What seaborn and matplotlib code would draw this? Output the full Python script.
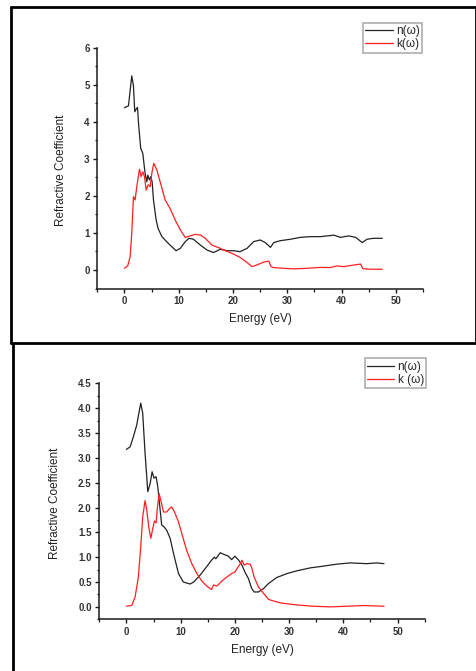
import numpy as np
import pandas as pd
import matplotlib
matplotlib.use('Agg')
import matplotlib.pyplot as plt
import seaborn as sns
from matplotlib.ticker import MultipleLocator, FormatStrFormatter
from matplotlib.lines import Line2D

# верхний график: n(w)
e_n_top = [0, 0.74, 1.35, 1.66, 1.9, 2.15, 2.4, 2.64, 3.0, 3.38, 3.8, 4.12, 4.3, 4.6, 4.86, 5.1,
           5.35, 5.84, 6.2, 6.9, 7.8, 8.7, 9.5, 10.3, 11.2, 11.9, 12.7, 13.96, 15.2, 16.4, 17.65,
           18.9, 20.1, 21.3, 22.6, 23.8, 25.0, 25.95, 26.9, 27.5, 28.7, 30.6, 32.4, 34.3, 36.1,
           38.6, 39.8, 41.3, 42.6, 43.8, 44.7, 45.9, 47.5]
n_top = [4.38, 4.43, 5.24, 4.97, 4.27, 4.34, 4.39, 3.87, 3.28, 3.15, 2.61, 2.38, 2.56, 2.43, 2.52, 2.38,
         1.89, 1.35, 1.12, 0.9, 0.76, 0.63, 0.52, 0.585, 0.765, 0.855, 0.83, 0.675, 0.54, 0.47, 0.56,
         0.52, 0.52, 0.495, 0.585, 0.765, 0.81, 0.74, 0.61, 0.74, 0.79, 0.83, 0.88, 0.9, 0.9,
         0.94, 0.88, 0.92, 0.88, 0.74, 0.83, 0.855, 0.855]

# верхний график: k(w)
e_k_top = [0, 0.6, 1.05, 1.35, 1.66, 1.97, 2.27, 2.77, 3.07, 3.38, 3.69, 4.0, 4.37, 4.74, 5.04, 5.4,
           5.97, 6.58, 7.5, 8.4, 9.35, 10.3, 11.2, 12.1, 13.0, 13.96, 14.9, 16.1, 17.4, 18.6, 20.1,
           21.3, 22.6, 23.5, 24.4, 25.6, 26.6, 27.0, 27.5, 29.3, 31.2, 33.6, 36.1, 37.9, 39.2,
           40.4, 42.3, 43.5, 43.9, 45.3, 47.5]
k_top = [0.045, 0.11, 0.36, 0.99, 1.98, 1.89, 2.25, 2.72, 2.52, 2.65, 2.52, 2.16, 2.3, 2.25, 2.61, 2.88,
         2.7, 2.38, 1.89, 1.66, 1.35, 1.08, 0.88, 0.92, 0.96, 0.945, 0.855, 0.675, 0.6, 0.52, 0.43,
         0.34, 0.2, 0.09, 0.135, 0.21, 0.24, 0.09, 0.065, 0.045, 0.03, 0.045, 0.07, 0.065, 0.11,
         0.09, 0.135, 0.16, 0.035, 0.02, 0.02]

# нижний график: n(w)
e_n_bot = [0, 0.68, 1.3, 1.9, 2.4, 2.64, 3.0, 3.44, 3.94, 4.37, 4.74, 5.1, 5.47, 5.78, 6.1, 6.5,
           6.95, 7.44, 8.06, 8.7, 9.6, 10.5, 11.75, 12.4, 13.6, 14.8, 15.7, 16.2, 16.5, 17.3, 17.9,
           18.8, 19.4, 20.0, 20.7, 21.3, 21.9, 22.5, 23.1, 23.55, 24.35, 25.3, 26.2, 27.7, 29.6,
           31.4, 33.9, 36.3, 38.8, 41.3, 44.3, 46.2, 47.5]
n_bot = [3.17, 3.22, 3.43, 3.66, 3.96, 4.1, 3.9, 3.09, 2.32, 2.48, 2.72, 2.59, 2.62, 2.42, 2.08, 1.65,
         1.61, 1.54, 1.38, 1.07, 0.67, 0.5, 0.46, 0.5, 0.64, 0.81, 0.94, 1.0, 0.97, 1.09, 1.06,
         1.02, 0.95, 1.02, 0.94, 0.84, 0.69, 0.57, 0.37, 0.3, 0.3, 0.37, 0.47, 0.59, 0.67,
         0.725, 0.785, 0.82, 0.86, 0.885, 0.87, 0.885, 0.87]

# нижний график: k(w)
e_k_bot = [0, 1.0, 1.6, 2.2, 2.64, 3.0, 3.44, 3.75, 4.12, 4.5, 4.86, 5.17, 5.47, 5.72, 6.03, 6.33,
           6.83, 7.44, 7.93, 8.36, 8.86, 9.6, 10.2, 11.1, 12.05, 13.0, 13.9, 14.8, 15.7, 16.05, 16.7,
           17.6, 18.5, 19.4, 20.05, 20.5, 21.0, 21.3, 21.7, 22.2, 22.8, 23.1, 23.55, 24.35, 25.3,
           26.2, 27.1, 28.4, 30.2, 32.0, 34.5, 37.6, 40.65, 43.7, 47.5]
k_bot = [0.013, 0.03, 0.2, 0.6, 1.21, 1.81, 2.14, 1.95, 1.61, 1.38, 1.58, 1.73, 1.69, 2.01, 2.28, 2.15,
         1.91, 1.91, 1.98, 2.01, 1.91, 1.71, 1.48, 1.14, 0.87, 0.67, 0.52, 0.42, 0.35, 0.44, 0.42,
         0.52, 0.6, 0.67, 0.705, 0.79, 0.87, 0.94, 0.84, 0.87, 0.86, 0.79, 0.6, 0.4, 0.27,
         0.15, 0.12, 0.08, 0.054, 0.034, 0.013, 0.0, 0.013, 0.027, 0.013]

sns.set_style('ticks')
plt.rcParams['font.family'] = ['Liberation Sans', 'DejaVu Sans']

fig = plt.figure(figsize=(4.77, 6.71), dpi=100)
W, H = 477, 671


def px_axes(x0, y0, x1, y1):
    return fig.add_axes([x0 / W, 1 - y1 / H, (x1 - x0) / W, (y1 - y0) / H])


def draw_panel(ax, en, n, ek, k, labels, ylim, ymaj, ymin, fmt, legend_box, ylab_x, xlab_y):
    sns.lineplot(x=en, y=n, ax=ax, color='#222222', lw=0.9, label=labels[0], estimator=None, sort=False)
    sns.lineplot(x=ek, y=k, ax=ax, color='#ff2020', lw=0.9, label=labels[1], estimator=None, sort=False)
    ax.set_xlim(-5, 55)
    ax.set_ylim(*ylim)
    ax.xaxis.set_major_locator(MultipleLocator(10))
    ax.xaxis.set_minor_locator(MultipleLocator(5))
    ax.yaxis.set_major_locator(MultipleLocator(ymaj))
    ax.yaxis.set_minor_locator(MultipleLocator(ymin))
    ax.yaxis.set_major_formatter(FormatStrFormatter(fmt))
    sns.despine(ax=ax)
    for s in ['left', 'bottom']:
        ax.spines[s].set_linewidth(1.1)
        ax.spines[s].set_color('#1a1a1a')
    ax.tick_params(which='major', direction='out', length=3, width=1.0, labelsize=7,
                   colors='#1a1a1a', pad=2.5)
    ax.tick_params(which='minor', direction='out', length=1.8, width=0.9, colors='#1a1a1a')
    for t in ax.get_xticklabels() + ax.get_yticklabels():
        t.set_fontweight('bold')
        t.set_color('#333333')
    ax.set_xlabel('Energy (eV)', fontsize=8.5, color='#222222')
    ax.set_ylabel('Refractive Coefficient', fontsize=8.5, color='#222222')
    ax.xaxis.set_label_coords(0.5, xlab_y)
    ax.yaxis.set_label_coords(ylab_x, 0.49)
    leg = ax.legend(loc='upper right', bbox_to_anchor=(legend_box[0] / W, 1 - legend_box[1] / H),
                    bbox_transform=fig.transFigure, borderaxespad=0, fontsize=8.5, frameon=True,
                    fancybox=False, handlelength=2.3, handletextpad=0.3, borderpad=0.2,
                    labelspacing=0.1)
    leg.get_frame().set_edgecolor('#999999')
    leg.get_frame().set_linewidth(1.2)


ax1 = px_axes(97.3, 47.7, 423, 288.5)
draw_panel(ax1, e_n_top, n_top, e_k_top, k_top, ['n(ω)', 'k(ω)'], (-0.5, 6), 1, 0.5, '%d',
           (422.3, 22.7), -0.094, -0.10)

ax2 = px_axes(99.3, 383.3, 424.7, 619.3)
draw_panel(ax2, e_n_bot, n_bot, e_k_bot, k_bot, ['n(ω)', 'k (ω)'], (-0.25, 4.5), 0.5, 0.25, '%.1f',
           (426.3, 358.3), -0.118, -0.105)

# рамки вокруг панелей
def fline(x0, y0, x1, y1, lw=2.0):
    fig.add_artist(Line2D([x0 / W, x1 / W], [1 - y0 / H, 1 - y1 / H], color='black', lw=lw,
                          transform=fig.transFigure))


fline(11, 7, 476, 7)
fline(11, 7, 11, 343)
fline(476, 7, 476, 343)
fline(11, 343, 477, 343)
fline(13, 343, 13, 671)

plt.savefig('out.png', dpi=100)
